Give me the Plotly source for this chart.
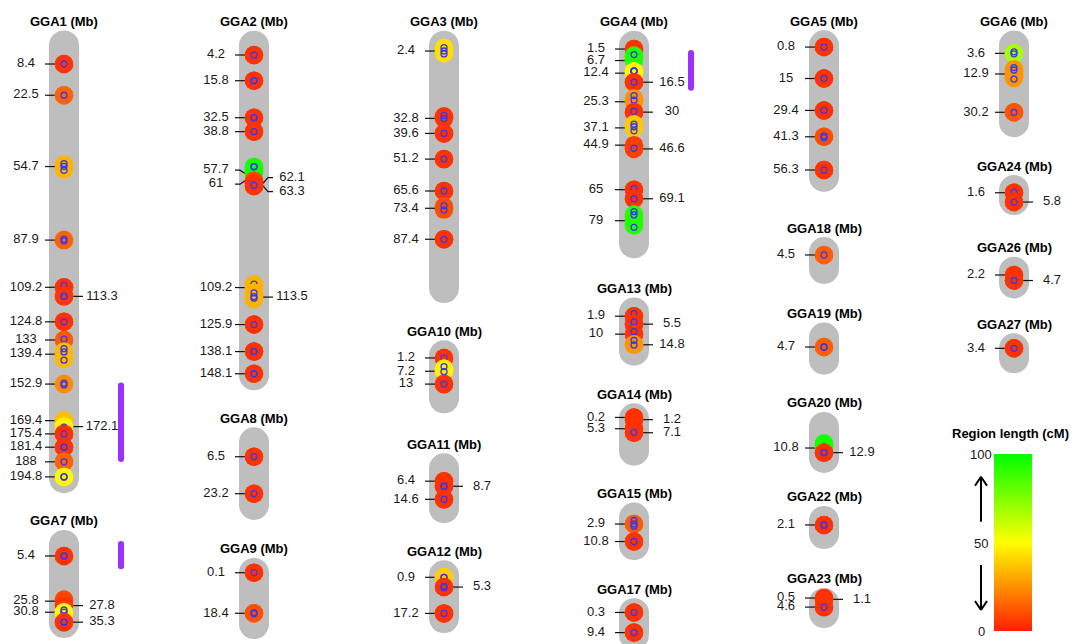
import plotly.graph_objects as go
from plotly.colors import sample_colorscale

W, H = 1074, 644
PX_PER_MB = 2.215  # vertical scale shared by every chromosome

# ---------------------------------------------------------------- data
chromosomes = ["GGA1", "GGA7", "GGA2", "GGA8", "GGA9", "GGA3", "GGA10", "GGA11",
               "GGA12", "GGA4", "GGA13", "GGA14", "GGA15", "GGA17", "GGA5", "GGA18",
               "GGA19", "GGA20", "GGA22", "GGA23", "GGA6", "GGA24", "GGA26", "GGA27"]

# drawn extent of each chromosome (Mb)
chrom_span = {
    "GGA1": (0, 195.4), "GGA2": (0, 148.8), "GGA3": (0, 109.4), "GGA4": (0, 89.2),
    "GGA5": (0, 59.4), "GGA6": (0, 34.7), "GGA7": (0.4, 35.7), "GGA8": (0, 28.3),
    "GGA9": (0.2, 23.3), "GGA10": (0, 19.4), "GGA11": (0.6, 18.6), "GGA12": (0, 19.3),
    "GGA13": (0.2, 17.5), "GGA14": (0.6, 15.2), "GGA15": (0, 12.4), "GGA17": (0.6, 10.5),
    "GGA18": (3.2, 10.8), "GGA19": (0.4, 10.4), "GGA20": (1.3, 15.3), "GGA22": (0.3, 6.2),
    "GGA23": (2.7, 7.3), "GGA24": (0.4, 4.9), "GGA26": (0.7, 6.0), "GGA27": (3.4, 7.9),
}

# position labels (Mb) printed on each side of a chromosome
left_labels = {
    "GGA1": [8.4, 22.5, 54.7, 87.9, 109.2, 124.8, 133, 139.4, 152.9, 169.4, 175.4, 181.4, 188, 194.8],
    "GGA2": [4.2, 15.8, 32.5, 38.8, 57.7, 61, 109.2, 125.9, 138.1, 148.1],
    "GGA3": [2.4, 32.8, 39.6, 51.2, 65.6, 73.4, 87.4],
    "GGA4": [1.5, 6.7, 12.4, 25.3, 37.1, 44.9, 65, 79],
    "GGA5": [0.8, 15, 29.4, 41.3, 56.3],
    "GGA6": [3.6, 12.9, 30.2],
    "GGA7": [5.4, 25.8, 30.8],
    "GGA8": [6.5, 23.2],
    "GGA9": [0.1, 18.4],
    "GGA10": [1.2, 7.2, 13],
    "GGA11": [6.4, 14.6],
    "GGA12": [0.9, 17.2],
    "GGA13": [1.9, 10],
    "GGA14": [0.2, 5.3],
    "GGA15": [2.9, 10.8],
    "GGA17": [0.3, 9.4],
    "GGA18": [4.5],
    "GGA19": [4.7],
    "GGA20": [10.8],
    "GGA22": [2.1],
    "GGA23": [0.5, 4.6],
    "GGA24": [1.6],
    "GGA26": [2.2],
    "GGA27": [3.4],
}
right_labels = {
    "GGA1": [113.3, 172.1],
    "GGA2": [62.1, 63.3, 113.5],
    "GGA4": [16.5, 30, 46.6, 69.1],
    "GGA7": [27.8, 35.3],
    "GGA11": [8.7],
    "GGA12": [5.3],
    "GGA13": [5.5, 14.8],
    "GGA14": [1.2, 7.1],
    "GGA20": [12.9],
    "GGA23": [1.1],
    "GGA24": [5.8],
    "GGA26": [4.7],
}

# regions: (start Mb, end Mb, region length cM, SNP positions Mb)
regions = {
    "GGA1": [(8.4, 8.4, 4, [8.4]), (22.5, 22.5, 15, [22.5]),
             (53.8, 56.0, 33, [53.4, 54.6, 56.4]), (87.9, 87.9, 15, [87.5, 88.3]),
             (109.2, 109.2, 4, [108.3]), (113.3, 113.3, 5, [113.3, 113.3]),
             (124.8, 124.8, 4, [124.8]), (133, 133, 13, [132.6]),
             (138.2, 141.6, 34, [136.9, 138.4, 142.1]), (152.9, 152.9, 24, [152.5, 153.3]),
             (169.4, 169.4, 35, [169.6]), (172.1, 172.1, 47, [172.3]),
             (175.4, 175.4, 4, [175.4]), (181.4, 181.4, 4, [181.4, 181.4]),
             (188, 188, 15, [188]), (194.8, 194.8, 48, [194.8, 194.8])],
    "GGA2": [(4.2, 4.2, 4, [4.2]), (15.8, 15.8, 4, [15.8, 15.8]),
             (32.5, 32.5, 4, [32.5, 32.5]), (38.8, 38.8, 4, [38.8]),
             (54.6, 57.7, 96, [54.6, 54.6]), (61, 61, 9, []), (62.1, 62.1, 5, []),
             (63.3, 63.3, 4, [63.0]), (107.7, 109.2, 33, [107.6]),
             (111.5, 114.4, 33, [111.6, 113.3, 114.0]), (125.9, 125.9, 4, [125.9]),
             (138.1, 138.1, 4, [138.1, 138.1]), (148.1, 148.1, 4, [148.1, 148.1])],
    "GGA3": [(0.9, 3.4, 43, [0.9, 2.4, 3.7]), (31.9, 32.8, 4, [31.5, 32.9]),
             (39.6, 39.6, 4, [39.6]), (51.2, 51.2, 4, [51.2]), (65.6, 65.6, 4, [65.6]),
             (72.6, 74.0, 10, [72.2, 74.2]), (87.4, 87.4, 4, [87.4])],
    "GGA4": [(1.5, 1.5, 4, []), (4.4, 6.7, 94, [4.0]), (11.5, 12.4, 48, [11.4, 11.4, 11.6]),
             (16.5, 16.5, 4, [16.5]), (23.8, 25.3, 26, [22.5, 24.6]), (30, 30, 4, [29.6]),
             (35.5, 37.1, 38, [35.4, 36.6, 38.4]), (44.9, 46.6, 7, [46.3]),
             (65, 65, 4, [64.4]), (69.1, 69.1, 4, [69.1]),
             (76.2, 81.2, 93, [74.9, 76.4, 82.0])],
    "GGA5": [(0.8, 0.8, 4, [0.8]), (15, 15, 4, [15]), (29.4, 29.4, 4, [29.4]),
             (41.3, 41.3, 10, [40.9, 41.7]), (56.3, 56.3, 4, [56.3])],
    "GGA6": [(3.6, 3.6, 67, [2.9, 3.8]), (10.8, 14.7, 26, [10.0, 11.1, 15.2]),
             (30.2, 30.2, 12, [30.2])],
    "GGA7": [(5.4, 5.4, 4, [5.4, 5.4]), (25.1, 25.8, 8, []), (27.8, 27.8, 5, []),
             (30.8, 30.8, 48, [29.8, 30.8]), (35.3, 35.3, 4, [35.3, 35.3])],
    "GGA8": [(6.5, 6.5, 4, [6.5]), (23.2, 23.2, 4, [23.2])],
    "GGA9": [(0.1, 0.1, 4, [0.1]), (18.4, 18.4, 11, [18.1, 18.6])],
    "GGA10": [(1.2, 1.2, 4, [1.2]), (6.0, 7.2, 47, [5.1, 7.4]), (13, 13, 4, [13])],
    "GGA11": [(6.4, 6.4, 4, []), (8.7, 8.7, 4, [8.7, 8.7]), (14.6, 14.6, 4, [14.6])],
    "GGA12": [(0.9, 0.9, 39, [0.9, 0.9]), (5.3, 5.3, 4, [4.9, 5.6]), (17.2, 17.2, 4, [17.2])],
    "GGA13": [(1.9, 1.9, 4, [0.7]), (5.5, 5.5, 4, [4.5]), (10, 10, 4, [8.9]),
              (14.6, 14.8, 26, [12.8, 14.9])],
    "GGA14": [(0.2, 0.2, 4, [0.1]), (1.2, 1.2, 4, []), (5.3, 5.3, 4, []), (7.1, 7.1, 4, [6.9])],
    "GGA15": [(2.9, 2.9, 13, [1.3, 2.9, 3.9]), (10.8, 10.8, 4, [10.8])],
    "GGA17": [(0.3, 0.3, 4, [0.3]), (9.4, 9.4, 4, [9.4])],
    "GGA18": [(4.5, 4.5, 14, [4.5])],
    "GGA19": [(4.7, 4.7, 14, [4.7, 4.7])],
    "GGA20": [(8.7, 10.8, 96, [10.3]), (12.9, 12.9, 4, [12.9, 12.9])],
    "GGA22": [(2.1, 2.1, 4, [2.1, 2.1])],
    "GGA23": [(0.5, 0.5, 4, [0.4]), (1.1, 1.1, 4, []), (4.6, 4.6, 4, [4.6])],
    "GGA24": [(1.6, 1.6, 4, [1.3]), (5.8, 5.8, 4, [5.8])],
    "GGA26": [(2.2, 2.2, 4, []), (4.7, 4.7, 4, [4.7])],
    "GGA27": [(3.4, 3.4, 4, [3.4])],
}

# highlighted stretches drawn as a bar beside the chromosome (Mb)
selection_span = {"GGA1": (153.6, 186.7), "GGA4": (3.3, 19.0), "GGA7": (0.0, 10.1)}

legend_ticks = [0, 50, 100]
CM_MAX = 100

# ---------------------------------------------------------------- layout
COLUMN_X = [64, 254, 444, 634, 824, 1014]
COL_HALF = 95
# (column, pixel row of 0 Mb)
placement = {
    "GGA1": (0, 45.4), "GGA7": (0, 544.0),
    "GGA2": (1, 45.7), "GGA8": (1, 442.3), "GGA9": (1, 572.5),
    "GGA3": (2, 45.7), "GGA10": (2, 355.3), "GGA11": (2, 467.0), "GGA12": (2, 575.3),
    "GGA4": (3, 45.7), "GGA13": (3, 312.0), "GGA14": (3, 417.0), "GGA15": (3, 517.6),
    "GGA17": (3, 611.8),
    "GGA5": (4, 45.3), "GGA18": (4, 245.0), "GGA19": (4, 336.6), "GGA20": (4, 424.1),
    "GGA22": (4, 520.3), "GGA23": (4, 596.9),
    "GGA6": (5, 45.4), "GGA24": (5, 189.2), "GGA26": (5, 270.1), "GGA27": (5, 340.8),
}

COLORSCALE = [[0.0, "#ff2000"], [0.5, "#ffff00"], [1.0, "#00ff00"]]
BODY_COLOR, BODY_W = "#bebebe", 30
REGION_D = 18.5
SNP_COLOR, SNP_D, SNP_LW = "#3a36ee", 6, 1.3
SEL_COLOR, SEL_W, SEL_DX = "#9b30ff", 6, 57
LABEL_DX = 38
TICK_IN, TICK_MID, TICK_OUT = 9, 14, 19
TIGHT_PX, SPREAD_PX = 8, 14
FONT = "Liberation Sans, Arial, sans-serif"
TEXT_COLOR = "#1a1a1a"

# legend geometry (pixels)
BAR_LEFT, BAR_W = 994.3, 38
BAR_TOP, BAR_BOTTOM = 454.3, 631.7
LEG_LABEL_X = 981


def spread(values):
    """Push apart labels that would sit almost on top of each other."""
    px = [v * PX_PER_MB for v in values]
    out = list(px)
    for k in range(1, len(out)):
        if out[k] - out[k - 1] < TIGHT_PX:
            mid = (out[k] + out[k - 1]) / 2
            out[k - 1] = mid - SPREAD_PX / 2
            out[k] = mid + SPREAD_PX / 2
    return [p / PX_PER_MB for p in out]


def paper_x(px):
    return px / W


def paper_y(py):
    return 1 - py / H


fig = go.Figure()
axes = {}
annotations = []
colorbar_done = False

for i, name in enumerate(chromosomes, start=1):
    col, y0 = placement[name]
    cx = COLUMN_X[col]
    lo, hi = max(0, cx - COL_HALF), min(W, cx + COL_HALF)
    sfx = "" if i == 1 else str(i)
    xr, yr = "x" + sfx, "y" + sfx
    axes["xaxis" + sfx] = dict(domain=[lo / W, hi / W], range=[lo - cx, hi - cx],
                               visible=False, fixedrange=True, anchor=yr)
    axes["yaxis" + sfx] = dict(domain=[0, 1], range=[(H - y0) / PX_PER_MB, -y0 / PX_PER_MB],
                               visible=False, fixedrange=True, anchor=xr)
    common = dict(xaxis=xr, yaxis=yr, hoverinfo="skip", showlegend=False)

    # chromosome body
    s, e = chrom_span[name]
    fig.add_trace(go.Scatter(x=[0, 0], y=[s, e], mode="lines+markers",
                             line=dict(color=BODY_COLOR, width=BODY_W),
                             marker=dict(color=BODY_COLOR, size=BODY_W), **common))

    # highlighted stretch
    if name in selection_span:
        a, b = selection_span[name]
        fig.add_trace(go.Scatter(x=[SEL_DX, SEL_DX], y=[a, b], mode="lines+markers",
                                 line=dict(color=SEL_COLOR, width=SEL_W),
                                 marker=dict(color=SEL_COLOR, size=SEL_W), **common))

    # title
    annotations.append(dict(x=0, y=s, xref=xr, yref=yr, yshift=BODY_W / 2 + 9,
                            text=f"<b>{name} (Mb)</b>", showarrow=False,
                            font=dict(family=FONT, size=13, color="black"),
                            xanchor="center", yanchor="middle"))

    # position labels with their leader lines
    for side, labels in ((-1, left_labels.get(name, [])), (1, right_labels.get(name, []))):
        if not labels:
            continue
        shown = spread(labels)
        lx, ly = [], []
        for v, d in zip(labels, shown):
            lx += [side * TICK_OUT, side * TICK_MID, side * TICK_IN, None]
            ly += [d, d, v, None]
        fig.add_trace(go.Scatter(x=lx, y=ly, mode="lines",
                                 line=dict(color="#111111", width=1.2), **common))
        fig.add_trace(go.Scatter(x=[side * LABEL_DX] * len(labels), y=shown, mode="text",
                                 text=[f"{v:g}" for v in labels], textposition="middle center",
                                 textfont=dict(family=FONT, size=13, color=TEXT_COLOR),
                                 cliponaxis=False, **common))

    # regions, each followed by its SNPs
    for (rs, re_, cm, snps) in regions[name]:
        fill = sample_colorscale(COLORSCALE, [cm / CM_MAX])[0]
        marker = dict(color=[cm, cm], colorscale=COLORSCALE, cmin=0, cmax=CM_MAX,
                      size=REGION_D, line=dict(width=0))
        if not colorbar_done:
            marker.update(showscale=True, colorbar=dict(
                x=paper_x(BAR_LEFT), xanchor="left", xref="paper", xpad=0, ypad=0,
                y=paper_y((BAR_TOP + BAR_BOTTOM) / 2), yanchor="middle",
                len=(BAR_BOTTOM - BAR_TOP) / H, lenmode="fraction",
                thickness=BAR_W, thicknessmode="pixels", outlinewidth=0,
                showticklabels=False, ticks=""))
            colorbar_done = True
        fig.add_trace(go.Scatter(x=[0, 0], y=[rs, re_], mode="lines+markers",
                                 line=dict(color=fill, width=REGION_D), marker=marker, **common))
        if snps:
            fig.add_trace(go.Scatter(x=[0] * len(snps), y=snps, mode="markers",
                                     marker=dict(symbol="circle-open", size=SNP_D, color=SNP_COLOR,
                                                 line=dict(width=SNP_LW, color=SNP_COLOR)),
                                     **common))

# legend title and tick labels
annotations.append(dict(x=paper_x(1010), y=paper_y(433), xref="paper", yref="paper",
                        text="<b>Region length (cM)</b>", showarrow=False,
                        font=dict(family=FONT, size=13, color="black"),
                        xanchor="center", yanchor="middle"))
for t in legend_ticks:
    py = BAR_BOTTOM - (BAR_BOTTOM - BAR_TOP) * t / CM_MAX
    annotations.append(dict(x=paper_x(LEG_LABEL_X), y=paper_y(py), xref="paper", yref="paper",
                            text=str(t), showarrow=False,
                            font=dict(family=FONT, size=13, color=TEXT_COLOR),
                            xanchor="center", yanchor="middle"))

# arrows beside the colour bar
shapes = []
arrow_style = dict(type="line", xref="paper", yref="paper", line=dict(color="black", width=2))
for tail, head in ((521.7, 476.7), (565.0, 610.0)):
    d = 9 if head < tail else -9
    shapes.append(dict(x0=paper_x(LEG_LABEL_X), x1=paper_x(LEG_LABEL_X),
                       y0=paper_y(tail), y1=paper_y(head), **arrow_style))
    for dx in (-6, 6):
        shapes.append(dict(x0=paper_x(LEG_LABEL_X + dx), x1=paper_x(LEG_LABEL_X),
                           y0=paper_y(head + d), y1=paper_y(head), **arrow_style))

fig.update_layout(width=W, height=H, autosize=False,
                  margin=dict(l=0, r=0, t=0, b=0),
                  paper_bgcolor="white", plot_bgcolor="rgba(0,0,0,0)",
                  showlegend=False, annotations=annotations, shapes=shapes, **axes)

fig.write_html("out.html")
